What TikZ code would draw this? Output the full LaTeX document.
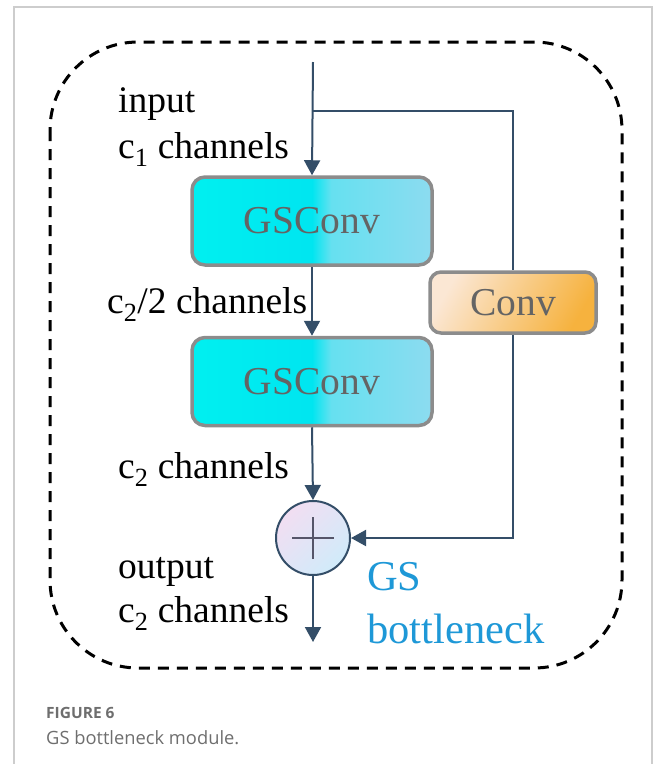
\documentclass[tikz,border=0pt]{standalone}
\usepackage{fontspec}
\setmainfont{Liberation Serif}
\newfontfamily\capfont{Open Sans}
\usetikzlibrary{arrows.meta}

\definecolor{flow}{RGB}{52,78,104}
\definecolor{boxedge}{RGB}{140,140,140}
\definecolor{boxtext}{RGB}{100,100,100}
\definecolor{gsblue}{RGB}{30,152,215}
\definecolor{framegray}{RGB}{205,205,205}
\definecolor{capgray}{RGB}{110,110,110}

% cyan block: saturated left half, pale right half
\pgfdeclarehorizontalshading{gsshade}{100bp}{%
  rgb(0bp)=(0,0.94,0.94);
  rgb(25bp)=(0,0.94,0.94);
  rgb(50bp)=(0,0.90,0.94);
  rgb(54bp)=(0.40,0.88,0.94);
  rgb(75bp)=(0.55,0.86,0.94);
  rgb(100bp)=(0.62,0.84,0.93)}

\tikzset{
  gsbox/.style={draw=boxedge, line width=3.5pt, rounded corners=13pt,
    shading=gsshade, minimum width=240pt, minimum height=88pt,
    text=boxtext, font=\fontsize{39.5}{42}\selectfont},
  convbox/.style={draw=boxedge, line width=3.5pt, rounded corners=11pt,
    shading=axis, left color={rgb,255:red,251;green,231;blue,212},
    right color={rgb,255:red,246;green,178;blue,62}, shading angle=60,
    minimum width=166pt, minimum height=61pt,
    text=boxtext, font=\fontsize{39.5}{42}\selectfont},
  sumnode/.style={circle, draw=flow, line width=2pt, minimum size=74pt,
    shading=axis, left color={rgb,255:red,242;green,222;blue,242},
    right color={rgb,255:red,208;green,235;blue,250}, shading angle=45},
  flowline/.style={draw=flow, line width=2pt},
  flowarrow/.style={flowline, -{Triangle[length=15pt,width=16pt]}},
  lbl/.style={anchor=base west, inner sep=0pt, font=\fontsize{37.5}{40}\selectfont},
  bluelbl/.style={anchor=base west, inner sep=0pt, text=gsblue, font=\fontsize{42.5}{45}\selectfont},
  outline/.style={draw=black, line width=3pt, dash pattern=on 11pt off 8pt, rounded corners=88pt}
}

\begin{document}
\begin{tikzpicture}[x=1pt, y=-1pt]
\useasboundingbox (0,0) rectangle (656,764);

% page frame
\draw[framegray, line width=1.5pt] (14,764) -- (14,7) -- (652,7) -- (652,764);

% module outline
\draw[outline] (50,42) rectangle (622,668);

% blocks
\node[gsbox] (g1) at (312,221) {GSConv};
\node[gsbox] (g2) at (312,381.5) {GSConv};
\node[convbox] (cv) at (513,302.5) {Conv};
\node[sumnode] (sum) at (313,538) {};
\draw[draw={rgb,255:red,85;green,85;blue,105}, line width=2.5pt]
  ([xshift=-21pt]sum.center) -- ([xshift=21pt]sum.center)
  ([yshift=-21pt]sum.center) -- ([yshift=21pt]sum.center);

% connectors
\coordinate (in) at (313,62);
\coordinate (split) at (313,111);
\coordinate (out) at (313,642);
\draw[flowarrow] (in) -- (g1.north);
\draw[flowline] (split) -| (cv.north);
\draw[flowarrow] (g1.south) -- (g2.north);
\draw[flowarrow] (g2.south) -- (sum.north);
\draw[flowarrow] (cv.south) |- (sum.east);
\draw[flowarrow] (sum.south) -- (out);

% labels
\node[lbl] (l1) at (118,112) {input};
\node[lbl] (l2) at (118,158) {c\textsubscript{1} channels};
\node[lbl] (l3) at (107,313) {c\textsubscript{2}/2 channels};
\node[lbl] (l4) at (118,478) {c\textsubscript{2} channels};
\node[lbl] (l5) at (118,578) {output};
\node[lbl] (l6) at (118,622) {c\textsubscript{2} channels};
\node[bluelbl] (b1) at (367,590) {GS};
\node[bluelbl] (b2) at (367,643) {bottleneck};

% caption
\node[anchor=base west, inner sep=0pt, text=capgray, font=\capfont\bfseries\fontsize{15.5}{18}\selectfont] (c1) at (46,718) {FIGURE 6};
\node[anchor=base west, inner sep=0pt, text=capgray, font=\capfont\fontsize{18.3}{21}\selectfont] (c2) at (46,744) {GS bottleneck module.};
\end{tikzpicture}
\end{document}
